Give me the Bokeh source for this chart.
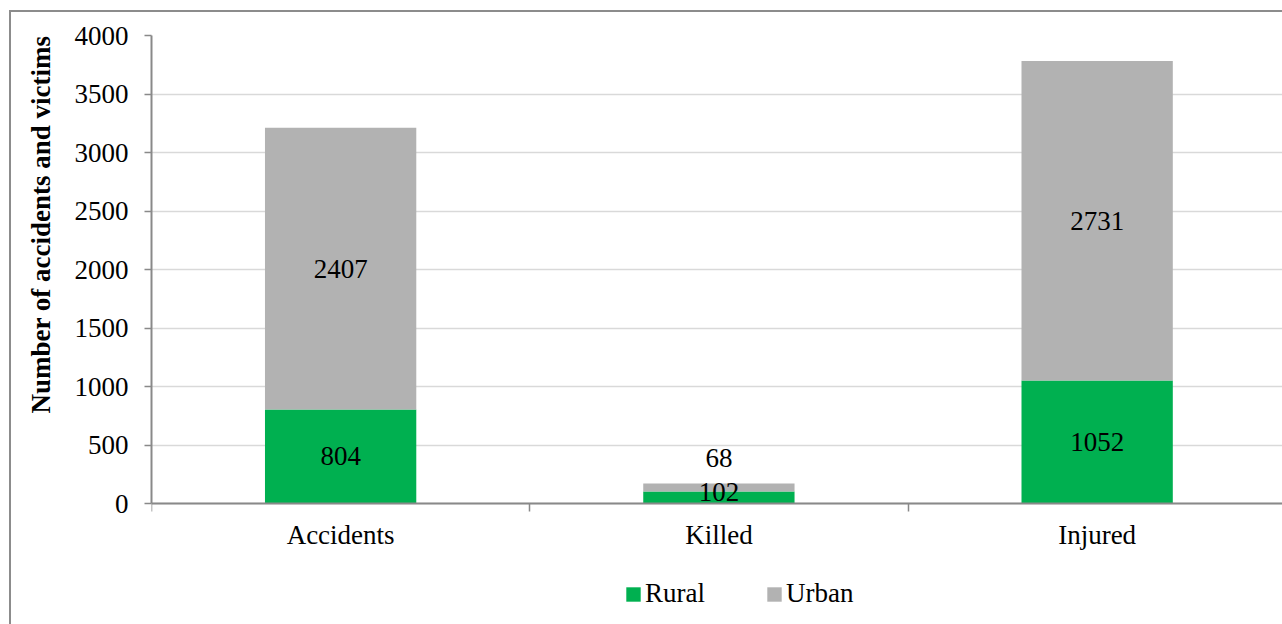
from bokeh.plotting import figure
from bokeh.models import Range1d, FixedTicker, ColumnDataSource, Legend, LegendItem, Title
from bokeh.core.properties import value
from bokeh.embed import file_html
from bokeh.resources import INLINE

categories = ["Accidents", "Killed", "Injured"]
series = ["Rural", "Urban"]
rural = [804, 102, 1052]
urban = [2407, 68, 2731]
y_ticks = [0, 500, 1000, 1500, 2000, 2500, 3000, 3500, 4000]
colors = ["#00B050", "#B2B2B2"]
rural_label_offset = [0, -6, 0]   # style: label nudges as in the source
urban_label_offset = [0, -30, 0]

FONT = "Liberation Serif"
FS = "27px"
AXIS_GRAY = "#898989"

# layout (pixels)
H, W = 624, 1282
TOP, LEFT = 35, 151
AXIS_Y = 503                     # pixel row of the value 0
Y_MAX = y_ticks[-1]
y_min = -Y_MAX * (H - AXIS_Y) / (AXIS_Y - TOP)   # extend frame below 0 to hold labels + legend

n = len(categories)
xpos = [i + 0.5 for i in range(n)]
source = ColumnDataSource(dict(
    x=xpos, cat=categories, Rural=rural, Urban=urban,
    rural_mid=[r / 2 for r in rural],
    urban_mid=[r + u / 2 for r, u in zip(rural, urban)],
    rural_txt=[str(v) for v in rural],
    urban_txt=[str(v) for v in urban],
    roff=rural_label_offset,
    uoff=urban_label_offset,
))

p = figure(width=W, height=H, x_range=Range1d(0, 2.99), y_range=Range1d(y_min, Y_MAX),
           output_backend="svg", toolbar_location=None,
           min_border_left=LEFT, min_border_top=TOP, min_border_right=0, min_border_bottom=0,
           border_fill_color=None, outline_line_color=None,
           styles={"box-shadow": "inset 9px 10px 0 0 #ffffff, inset 11px 12px 0 0 #8c8c8c"})

rs = p.vbar_stack(series, x="x", width=0.4, color=colors, line_color=None, source=source)

p.text(x="x", y="rural_mid", text="rural_txt", source=source, text_align="center",
       text_baseline="middle", text_font=value(FONT), text_font_size=FS, text_color="black",
       y_offset="roff")
p.text(x="x", y="urban_mid", text="urban_txt", source=source, text_align="center",
       text_baseline="middle", text_font=value(FONT), text_font_size=FS, text_color="black",
       y_offset="uoff")

# grid
p.xgrid.grid_line_color = None
p.ygrid.grid_line_color = "#d9d9d9"
p.ygrid.grid_line_width = 1.5

# y axis
p.yaxis.ticker = FixedTicker(ticks=y_ticks)
p.yaxis.bounds = (0, Y_MAX)
p.yaxis.major_label_text_font = FONT
p.yaxis.major_label_text_font_size = FS
p.yaxis.major_label_text_color = "black"
p.yaxis.major_label_standoff = 16
p.yaxis.axis_line_color = AXIS_GRAY
p.yaxis.axis_line_width = 2
p.yaxis.major_tick_line_color = AXIS_GRAY
p.yaxis.major_tick_line_width = 1.5
p.yaxis.major_tick_out = 7
p.yaxis.major_tick_in = 0
p.yaxis.minor_tick_line_color = None

p.add_layout(Title(text="Number of accidents and victims", align="right",
                   text_font=FONT, text_font_size=FS, text_font_style="bold",
                   text_color="black", standoff=32), "left")

# x axis at value 0: labels at category centres, ticks at category boundaries
p.xaxis.fixed_location = 0
p.xaxis.ticker = FixedTicker(ticks=xpos, minor_ticks=list(range(n + 1)))
p.xaxis.major_label_overrides = {x: c for x, c in zip(xpos, categories)}
p.xaxis.major_label_text_font = FONT
p.xaxis.major_label_text_font_size = FS
p.xaxis.major_label_text_color = "black"
p.xaxis.major_label_standoff = 8
p.xaxis.major_tick_line_color = None
p.xaxis.major_tick_out = 0
p.xaxis.major_tick_in = 0
p.xaxis.minor_tick_line_color = AXIS_GRAY
p.xaxis.minor_tick_line_width = 1.5
p.xaxis.minor_tick_out = 8
p.xaxis.minor_tick_in = 0
p.xaxis.axis_line_color = AXIS_GRAY
p.xaxis.axis_line_width = 2

legend = Legend(items=[LegendItem(label=s, renderers=[r]) for s, r in zip(series, rs)],
                orientation="horizontal", location=(473, 15),
                glyph_width=18, glyph_height=18, label_standoff=3, spacing=60,
                label_text_font=FONT, label_text_font_size=FS, label_text_color="black",
                label_height=25, border_line_color=None, background_fill_alpha=0,
                padding=0, margin=0)
p.add_layout(legend, "center")

open("out.html", "w").write(file_html(p, INLINE))
